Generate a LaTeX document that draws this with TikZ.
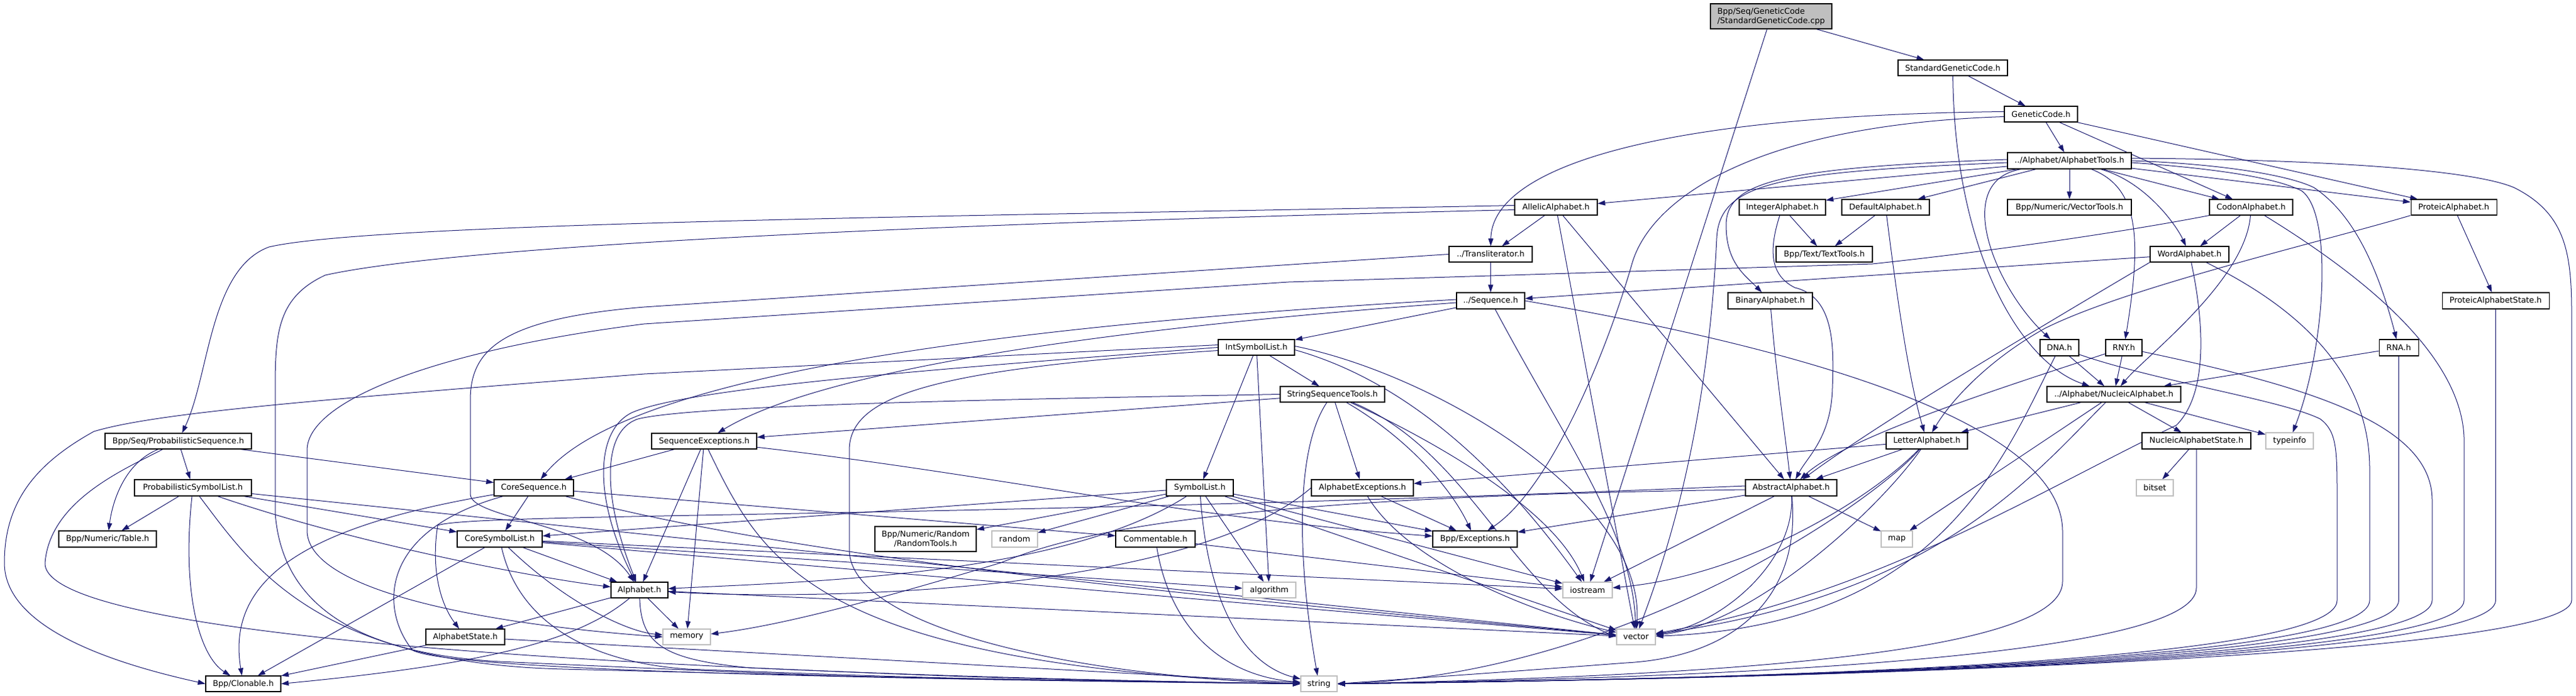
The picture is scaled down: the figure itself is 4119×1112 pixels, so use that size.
\documentclass[tikz,border=0pt]{standalone}
\usepackage{fontspec}
\setmainfont{DejaVu Sans}
\usetikzlibrary{arrows.meta,backgrounds}
\definecolor{edgec}{HTML}{191970}
\definecolor{lightb}{HTML}{BFBFBF}
\definecolor{rootf}{HTML}{BFBFBF}
\newcommand\nodefont{\fontsize{12.8}{15}\selectfont}
\tikzset{
 box/.style={draw=black, fill=white, line width=1.1pt, inner sep=0pt, font=\nodefont, text=black},
 sys/.style={box, draw=lightb},
 sz/.style 2 args={minimum width=#1pt, minimum height=#2pt},
 dep/.style={draw=edgec, line width=1pt, -{Triangle[length=12pt,width=8pt]}},
}
\begin{document}
\begin{tikzpicture}[x=1pt,y=-1pt]
\useasboundingbox (0,0) rectangle (4119,1112);
% nodes
\node[box, fill=rootf, sz={194}{40}, align=left] (root) at (2832,26) {Bpp/Seq/GeneticCode\\/StandardGeneticCode.cpp};
\node[box, sz={175}{25}] (stdgch) at (3122.5,108.5) {StandardGeneticCode.h};
\node[box, sz={117}{25}] (gc) at (3263.5,182.5) {GeneticCode.h};
\node[box, sz={198}{26}] (atools) at (3309,257) {../Alphabet/AlphabetTools.h};
\node[box, sz={132}{25}] (allelic) at (2488,331.5) {AllelicAlphabet.h};
\node[box, sz={138}{25}] (integer) at (2850,331.5) {IntegerAlphabet.h};
\node[box, sz={140}{25}] (default) at (3015,331.5) {DefaultAlphabet.h};
\node[box, sz={198}{25}] (vtools) at (3309,331.5) {Bpp/Numeric/VectorTools.h};
\node[box, sz={133}{25}] (codon) at (3599.5,331.5) {CodonAlphabet.h};
\node[box, sz={137}{25}] (proteic) at (3923.5,331.5) {ProteicAlphabet.h};
\node[box, sz={133}{25}] (translit) at (2383.5,406.5) {../Transliterator.h};
\node[box, sz={154}{25}] (texttools) at (2917,406.5) {Bpp/Text/TextTools.h};
\node[box, sz={126}{25}] (word) at (3501,406.5) {WordAlphabet.h};
\node[box, sz={109}{26}] (sequence) at (2383.5,481) {../Sequence.h};
\node[box, sz={135}{26}] (binary) at (2830.5,481) {BinaryAlphabet.h};
\node[box, sz={171}{26}] (pstate) at (3990.5,481) {ProteicAlphabetState.h};
\node[box, sz={122}{25}] (intsym) at (2009,555.5) {IntSymbolList.h};
\node[box, sz={62}{26}] (dna) at (3293,556) {DNA.h};
\node[box, sz={58}{26}] (rny) at (3396,556) {RNY.h};
\node[box, sz={63}{26}] (rna) at (3835.5,556) {RNA.h};
\node[box, sz={167}{25}] (sst) at (2130.5,630.5) {StringSequenceTools.h};
\node[box, sz={214}{25}] (nucleic) at (3380,630.5) {../Alphabet/NucleicAlphabet.h};
\node[box, sz={234}{25}] (probseq) at (285,705.5) {Bpp/Seq/ProbabilisticSequence.h};
\node[box, sz={168}{25}] (seqexc) at (1126,705.5) {SequenceExceptions.h};
\node[box, sz={130}{26}] (letter) at (3081,705) {LetterAlphabet.h};
\node[box, sz={174}{26}] (nstate) at (3512,705) {NucleicAlphabetState.h};
\node[sys, sz={76}{26}] (typeinfo) at (3661,705) {typeinfo};
\node[box, sz={187}{26}] (probsym) at (308.5,780) {ProbabilisticSymbolList.h};
\node[box, sz={127}{26}] (coreseq) at (853.5,780) {CoreSequence.h};
\node[box, sz={107}{26}] (symlist) at (1918.5,780) {SymbolList.h};
\node[box, sz={163}{26}] (alphexc) at (2178.5,780) {AlphabetExceptions.h};
\node[box, sz={146}{26}] (abstract) at (2864,780) {AbstractAlphabet.h};
\node[sys, sz={59}{26}] (bitset) at (3445.5,780) {bitset};
\node[box, sz={156}{26}] (table) at (172,862) {Bpp/Numeric/Table.h};
\node[box, sz={136}{26}] (coresym) at (799,862) {CoreSymbolList.h};
\node[box, sz={162}{40}, align=center] (randtools) at (1480,862) {Bpp/Numeric/Random\\/RandomTools.h};
\node[sys, sz={73}{26}] (randomstd) at (1622.5,862) {random};
\node[box, sz={127}{26}] (comment) at (1847.5,862) {Commentable.h};
\node[box, sz={135}{26}] (exceptions) at (2358.5,862) {Bpp/Exceptions.h};
\node[sys, sz={50}{26}] (map) at (3033,862) {map};
\node[box, sz={91}{25}] (alphabet) at (1022.5,943.5) {Alphabet.h};
\node[sys, sz={85}{25}] (algorithm) at (2029.5,943.5) {algorithm};
\node[sys, sz={79}{25}] (iostream) at (2538.5,943.5) {iostream};
\node[box, sz={126}{25}] (astate) at (744,1018.5) {AlphabetState.h};
\node[sys, sz={76}{25}] (memory) at (1098,1018.5) {memory};
\node[sys, sz={62}{25}] (vector) at (2616,1018.5) {vector};
\node[box, sz={120}{25}] (clonable) at (389,1093.5) {Bpp/Clonable.h};
\node[sys, sz={58}{25}] (string) at (2109,1093.5) {string};

\begin{scope}[on background layer]
\fill[white] (0,0) rectangle (4119,1112);
% root, top part
\draw[dep] (root) -- (stdgch);
\draw[dep] (root) -- (iostream);
\draw[dep] (stdgch) -- (gc);
\draw[dep] (stdgch) .. controls (3125,400) and (3230,580) .. (nucleic);
\draw[dep] (gc) -- (atools);
\draw[dep] (gc) -- (codon);
\draw[dep] (gc) -- (proteic);
\draw[dep] ([yshift=4pt]gc.west) .. controls (2600,185) and (2385,280) .. (translit);
\draw[dep] ([yshift=-4pt]gc.west) .. controls (2800,200) and (2640,320) .. (2610,420) .. controls (2570,560) and (2480,780) .. (exceptions);
% AlphabetTools
\draw[dep] (atools) -- (allelic);
\draw[dep] (atools) -- (integer);
\draw[dep] (atools) -- (default);
\draw[dep] (atools) -- (vtools);
\draw[dep] (atools) -- (codon);
\draw[dep] (atools) -- (proteic);
\draw[dep] ([yshift=2pt]atools.west) .. controls (2850,268) and (2760,290) .. (2760,360) .. controls (2760,420) and (2790,440) .. (binary);
\draw[dep] ([yshift=-3pt]atools.west) .. controls (2850,275) and (2750,290) .. (2745,380) .. controls (2730,700) and (2660,900) .. (vector);
\draw[dep] (atools) .. controls (3120,290) and (3190,460) .. (dna);
\draw[dep] (atools) .. controls (3420,300) and (3425,380) .. (rny);
\draw[dep] (atools) .. controls (3430,290) and (3480,360) .. (word);
\draw[dep] ([yshift=-3pt]atools.east) .. controls (3550,270) and (3640,285) .. (3680,305) .. controls (3730,340) and (3720,550) .. (typeinfo);
\draw[dep] (atools.east) .. controls (3550,262) and (3660,280) .. (3700,300) .. controls (3760,340) and (3800,420) .. (rna);
\draw[dep] ([yshift=4pt]atools.east) .. controls (3700,255) and (3950,270) .. (4020,300) .. controls (4100,340) and (4112,400) .. (4112,500) -- (4112,960) .. controls (4112,1050) and (2900,1085) .. (string.east);
% AllelicAlphabet
\draw[dep] (allelic) -- (translit);
\draw[dep] ([yshift=3pt]allelic.west) .. controls (1600,345) and (600,355) .. (430,395) .. controls (335,430) and (335,600) .. (probseq);
\draw[dep] ([yshift=-4pt]allelic.west) .. controls (1300,362) and (700,400) .. (520,440) .. controls (445,475) and (440,530) .. (440,620) -- (440,820) .. controls (450,960) and (560,1045) .. (800,1058) .. controls (1400,1085) .. (string.west);
\draw[dep] (allelic) -- (abstract);
\draw[dep] (allelic) -- (vector);
% Integer / Default
\draw[dep] (integer) -- (texttools);
\draw[dep] (integer) .. controls (2828,400) and (2830,440) .. (2870,460) .. controls (2935,475) and (2932,560) .. (2930,620) .. controls (2928,700) and (2890,730) .. (abstract);
\draw[dep] (default) -- (texttools);
\draw[dep] (default) .. controls (3030,450) and (3050,600) .. (letter);
% Codon
\draw[dep] (codon) -- (word);
\draw[dep] (codon) .. controls (3590,450) and (3430,570) .. (nucleic);
\draw[dep] (codon) .. controls (3760,430) and (3935,560) .. (3940,700) -- (3940,960) .. controls (3940,1055) and (2900,1085) .. (string.east);
\draw[dep] (codon.south west) .. controls (3400,370) and (3200,400) .. (2994,422) -- (2060,451) -- (1030,518) .. controls (700,560) and (491,640) .. (491,720) -- (491,850) .. controls (495,950) and (800,1000) .. (memory.west);
% Proteic
\draw[dep] (proteic) -- (pstate);
\draw[dep] (proteic.south west) .. controls (3700,390) and (3400,460) .. (3270,525) .. controls (3180,575) and (3120,640) .. (letter);
\draw[dep] (pstate.south) -- (3990.5,960) .. controls (3990.5,1055) and (2900,1085) .. (string.east);
% Transliterator
\draw[dep] (translit) -- (sequence);
\draw[dep] (translit.west) -- (1030,491) .. controls (800,510) and (752,560) .. (752,640) -- (752,790) .. controls (752,830) and (950,835) .. (alphabet);
% WordAlphabet
\draw[dep] (word) -- (sequence);
\draw[dep] (word.south west) .. controls (3200,560) and (3000,680) .. (abstract);
\draw[dep] (word) .. controls (3650,480) and (3789,580) .. (3789,750) -- (3789,960) .. controls (3789,1055) and (2900,1085) .. (string.east);
\draw[dep] (word) .. controls (3525,520) and (3530,630) .. (3480,680) .. controls (3250,790) and (3000,950) .. (vector);
% Sequence
\draw[dep] (sequence) -- (intsym);
\draw[dep] ([yshift=2pt]sequence.west) .. controls (1600,520) and (1000,600) .. (coreseq);
\draw[dep] ([yshift=-3pt]sequence.west) .. controls (1700,530) and (1300,600) .. (seqexc);
\draw[dep] (sequence) .. controls (2500,700) and (2610,850) .. (vector);
\draw[dep] (sequence.east) .. controls (2900,560) and (3298,680) .. (3298,850) -- (3298,930) .. controls (3298,1040) and (2800,1080) .. (string.east);
% Binary
\draw[dep] (binary) .. controls (2840,600) and (2855,700) .. (abstract);
% IntSymbolList
\draw[dep] (intsym) -- (symlist);
\draw[dep] (intsym) -- (sst);
\draw[dep] (intsym) -- (algorithm);
\draw[dep] ([yshift=4pt]intsym.west) -- (1030,598) .. controls (500,640) and (250,660) .. (150,690) .. controls (60,740) and (7,800) .. (7,900) .. controls (7,1010) and (200,1065) .. (clonable.west);
\draw[dep] (intsym.west) .. controls (1500,590) and (1100,620) .. (1010,660) .. controls (950,690) and (950,800) .. (alphabet);
\draw[dep] ([yshift=-5pt]intsym.west) .. controls (1500,590) and (1358,630) .. (1358,720) -- (1358,880) .. controls (1360,1000) and (1700,1080) .. (string.west);
\draw[dep] ([yshift=2pt]intsym.east) .. controls (2300,600) and (2630,800) .. (vector);
\draw[dep] ([yshift=-4pt]intsym.east) .. controls (2250,610) and (2400,750) .. (iostream);
% DNA / RNY / RNA
\draw[dep] (dna) -- (nucleic);
\draw[dep] (dna) .. controls (3450,610) and (3650,640) .. (3710,670) .. controls (3737,690) and (3737,720) .. (3737,800) -- (3737,960) .. controls (3737,1055) and (2900,1085) .. (string.east);
\draw[dep] (dna) .. controls (3200,740) and (3100,1000) .. (vector);
\draw[dep] (rny) -- (nucleic);
\draw[dep] (rny) .. controls (3200,620) and (2950,700) .. (abstract);
\draw[dep] (rny) .. controls (3700,620) and (3889,680) .. (3889,800) -- (3889,960) .. controls (3889,1055) and (2900,1085) .. (string.east);
\draw[dep] (rna) -- (nucleic);
\draw[dep] (rna.south) -- (3835.5,960) .. controls (3835.5,1055) and (2900,1085) .. (string.east);
% StringSequenceTools
\draw[dep] (sst) -- (seqexc);
\draw[dep] (sst) -- (alphexc);
\draw[dep] (sst) .. controls (2250,700) and (2320,780) .. (exceptions);
\draw[dep] (sst) .. controls (2070,720) and (2075,900) .. (string);
\draw[dep] (sst) .. controls (2350,720) and (2420,950) .. (vector.west);
\draw[dep] (sst) .. controls (2240,680) and (2480,800) .. (iostream);
\draw[dep] (sst.west) .. controls (1500,640) and (1100,650) .. (1020,670) .. controls (960,690) and (965,800) .. (alphabet);
% NucleicAlphabet
\draw[dep] (nucleic) -- (letter);
\draw[dep] (nucleic) -- (nstate);
\draw[dep] (nucleic) -- (typeinfo);
\draw[dep] (nucleic) -- (map);
\draw[dep] (nucleic) .. controls (3250,760) and (3100,950) .. (vector);
\draw[dep] (nstate) -- (bitset);
\draw[dep] (nstate.south) -- (3512,940) .. controls (3512,1040) and (2900,1082) .. (string.east);
% ProbabilisticSequence
\draw[dep] (probseq) -- (probsym);
\draw[dep] (probseq) -- (coreseq);
\draw[dep] (probseq) .. controls (200,740) and (180,800) .. (table);
\draw[dep] (probseq) .. controls (200,750) and (80,800) .. (72,900) .. controls (66,1030) and (1200,1080) .. (string.west);
% SequenceExceptions
\draw[dep] (seqexc) -- (coreseq);
\draw[dep] (seqexc) .. controls (1600,760) and (1900,830) .. (exceptions);
\draw[dep] (seqexc) -- (alphabet);
\draw[dep] (seqexc) -- (memory);
\draw[dep] (seqexc) .. controls (1220,900) and (1300,1060) .. (string.west);
% LetterAlphabet
\draw[dep] (letter) -- (alphexc);
\draw[dep] (letter) -- (abstract);
\draw[dep] (letter) .. controls (3000,790) and (2800,920) .. (iostream);
\draw[dep] (letter) .. controls (3000,820) and (2800,1000) .. (vector);
\draw[dep] (letter) .. controls (3000,800) and (2600,1080) .. (string.east);
% ProbabilisticSymbolList
\draw[dep] (probsym) -- (table);
\draw[dep] (probsym) .. controls (290,950) and (320,1050) .. (clonable);
\draw[dep] (probsym) .. controls (400,900) and (500,1060) .. (900,1070) .. controls (1500,1085) .. (string.west);
\draw[dep] (probsym) .. controls (600,880) and (900,930) .. (alphabet);
\draw[dep] (probsym) -- (coresym);
\draw[dep] (probsym) -- (vector);
% CoreSequence
\draw[dep] (coreseq) -- (coresym);
\draw[dep] (coreseq) .. controls (500,840) and (360,920) .. (clonable);
\draw[dep] (coreseq) .. controls (600,850) and (610,980) .. (660,1040) .. controls (720,1070) and (1300,1085) .. (string.west);
\draw[dep] (coreseq) -- (comment);
\draw[dep] (coreseq) .. controls (1300,900) and (2000,960) .. (vector);
% SymbolList
\draw[dep] (symlist) -- (coresym);
\draw[dep] (symlist) -- (randtools);
\draw[dep] (symlist) -- (randomstd);
\draw[dep] (symlist) .. controls (1700,920) and (1300,930) .. (alphabet);
\draw[dep] (symlist) -- (exceptions);
\draw[dep] (symlist) -- (algorithm);
\draw[dep] (symlist) .. controls (1930,950) and (1980,1060) .. (string);
\draw[dep] (symlist) -- (vector);
\draw[dep] (symlist) -- (iostream);
% AlphabetExceptions
\draw[dep] (alphexc) -- (exceptions);
\draw[dep] (alphexc) .. controls (2250,900) and (2450,980) .. (vector);
\draw[dep] (alphexc.west) .. controls (1900,950) and (1300,960) .. (alphabet);
% AbstractAlphabet
\draw[dep] (abstract) -- (exceptions);
\draw[dep] (abstract) -- (iostream);
\draw[dep] (abstract) .. controls (2870,900) and (2750,1000) .. (vector);
\draw[dep] (abstract) .. controls (2880,950) and (2780,1050) .. (2600,1060) .. controls (2400,1075) .. (string.east);
\draw[dep] (abstract) -- (map);
\draw[dep] ([yshift=3pt]abstract.west) .. controls (1500,830) and (760,820) .. (700,840) .. controls (690,900) and (700,960) .. (astate);
\draw[dep] ([yshift=-3pt]abstract.west) .. controls (1900,795) and (1700,860) .. (1600,900) .. controls (1400,960) and (1250,1000) .. (memory);
% CoreSymbolList
\draw[dep] (coresym) -- (clonable);
\draw[dep] (coresym) .. controls (830,1000) and (950,1060) .. (1100,1070) .. controls (1500,1085) .. (string.west);
\draw[dep] (coresym) .. controls (900,960) and (1000,1010) .. (memory);
\draw[dep] (coresym) -- (alphabet);
\draw[dep] (coresym) -- (vector);
\draw[dep] (coresym) -- (iostream);
\draw[dep] (coresym) -- (algorithm);
% Commentable
\draw[dep] (comment) -- (iostream);
\draw[dep] (comment) .. controls (1870,1000) and (1950,1080) .. (string);
% Alphabet
\draw[dep] (alphabet) -- (astate);
\draw[dep] (alphabet) -- (memory);
\draw[dep] (alphabet) .. controls (930,1020) and (800,1060) .. (clonable.east);
\draw[dep] (alphabet) .. controls (1025,1030) and (1060,1055) .. (1200,1068) .. controls (1600,1085) .. (string.west);
\draw[dep] (alphabet) -- (vector);
% AlphabetState
\draw[dep] (astate) -- (clonable);
\draw[dep] (astate) -- (string);
\end{scope}
\end{tikzpicture}
\end{document}
